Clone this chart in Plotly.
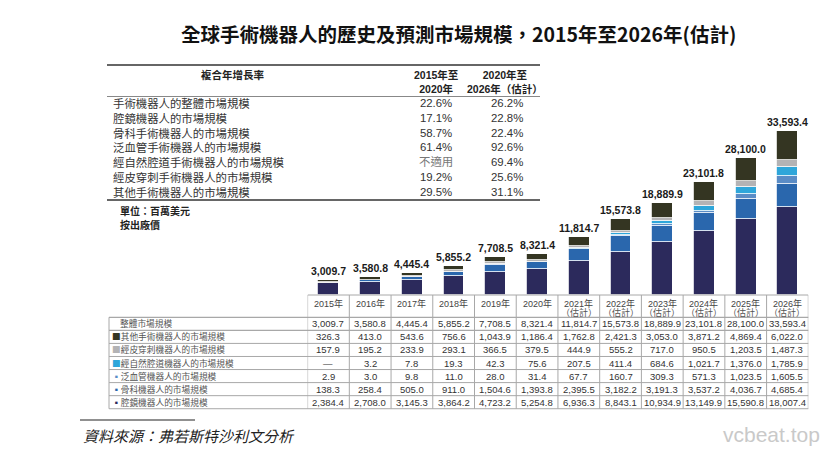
import plotly.graph_objects as go

# ---------------- data ----------------
years = ["2015年", "2016年", "2017年", "2018年", "2019年", "2020年",
         "2021年", "2022年", "2023年", "2024年", "2025年", "2026年"]
estimated = [False] * 6 + [True] * 6

endoscopic = [2384.4, 2708.0, 3145.3, 3864.2, 4723.2, 5254.8, 6936.3, 8843.1, 10934.9, 13149.9, 15590.8, 18007.4]
orthopedic = [138.3, 258.4, 505.0, 911.0, 1504.6, 1393.8, 2395.5, 3182.2, 3191.3, 3537.2, 4036.7, 4685.4]
panvascular = [2.9, 3.0, 9.8, 11.0, 28.0, 31.4, 67.7, 160.7, 309.3, 571.3, 1023.5, 1605.5]
natural_orifice = [None, 3.2, 7.8, 19.3, 42.3, 75.6, 207.5, 411.4, 684.6, 1021.7, 1376.0, 1785.9]
percutaneous = [157.9, 195.2, 233.9, 293.1, 366.5, 379.5, 444.9, 555.2, 717.0, 950.5, 1203.5, 1487.3]
others = [326.3, 413.0, 543.6, 756.6, 1043.9, 1186.4, 1762.8, 2421.3, 3053.0, 3871.2, 4869.4, 6022.0]
totals = [3009.7, 3580.8, 4445.4, 5855.2, 7708.5, 8321.4, 11814.7, 15573.8, 18889.9, 23101.8, 28100.0, 33593.4]

cagr_labels = ["手術機器人的整體市場規模", "腔鏡機器人的市場規模", "骨科手術機器人的市場規模",
               "泛血管手術機器人的市場規模", "經自然腔道手術機器人的市場規模",
               "經皮穿刺手術機器人的市場規模", "其他手術機器人的市場規模"]
cagr_2015_2020 = ["22.6%", "17.1%", "58.7%", "61.4%", "不適用", "19.2%", "29.5%"]
cagr_2020_2026 = ["26.2%", "22.8%", "22.4%", "92.6%", "69.4%", "25.6%", "31.1%"]

# ---------------- styles ----------------
W, H = 831, 449
CJK = "Noto Sans CJK TC"
NUM = "Liberation Sans, Arial, Noto Sans CJK TC"

col_endo = "#2c2a5c"
col_orth = "#2a67ad"
col_pan = "#5a8cc6"
col_nat = "#2ea6da"
col_perc = "#b3b3b5"
col_oth = "#343522"

series = [
    ("腔鏡機器人的市場規模", endoscopic, col_endo, "▪"),
    ("骨科機器人的市場規模", orthopedic, col_orth, "▪"),
    ("泛血管機器人的市場規模", panvascular, col_pan, "▪"),
    ("經自然腔道機器人的市場規模", natural_orifice, col_nat, "■"),
    ("經皮穿刺機器人的市場規模", percutaneous, col_perc, "■"),
    ("其他手術機器人的市場規模", others, col_oth, "■"),
]


def px(p):
    return p / W


def py(p):
    return 1 - p / H


def note(x, y, text, size, color="#333", family=CJK, xanchor="center", yanchor="middle",
         xref="paper", yref="paper", **kw):
    font = dict(family=family, size=size, color=color)
    font.update(kw.pop("font_extra", {}))
    return dict(x=x, y=y, xref=xref, yref=yref, text=text, showarrow=False,
                xanchor=xanchor, yanchor=yanchor, font=font, **kw)


x_idx = list(range(len(years)))
fig = go.Figure()
for name, vals, col, _ in series:
    fig.add_trace(go.Bar(
        x=x_idx, y=[v if v is not None else 0 for v in vals], name=name,
        marker=dict(color=col, line=dict(color="white", width=0.8)),
        width=0.5, hoverinfo="skip"))

annotations = []
shapes = []

# bar totals
for i, t in enumerate(totals):
    annotations.append(note(i, t, f"<b>{t:,.1f}</b>", 10.5, "#1a1a1a", NUM,
                            yanchor="bottom", xref="x", yref="y", yshift=1))

# title
annotations.append(note(px(458), py(33),
                        "<b>全球手術機器人的歷史及預測市場規模，2015年至2026年(估計)</b>",
                        19.5, "#111"))

# ---- CAGR table ----
shapes.append(dict(type="line", xref="paper", yref="paper", x0=px(107), x1=px(540),
                   y0=py(65), y1=py(65), line=dict(color="#333", width=1.5)))
shapes.append(dict(type="line", xref="paper", yref="paper", x0=px(107), x1=px(540),
                   y0=py(96.5), y1=py(96.5), line=dict(color="#888", width=1)))
shapes.append(dict(type="line", xref="paper", yref="paper", x0=px(107), x1=px(540),
                   y0=py(200), y1=py(200), line=dict(color="#333", width=1.5)))
annotations.append(note(px(233), py(74.5), "<b>複合年增長率</b>", 10.5, "#222"))
annotations.append(note(px(436), py(81.5), "<b>2015年至<br>2020年</b>", 10.5, "#222", NUM))
annotations.append(note(px(505), py(81.5), "<b>2020年至<br>2026年（估計）</b>", 10.5, "#222", NUM))

cagr_mid = py(103.3 + 3 * 14.8)
annotations.append(note(px(111), cagr_mid, "<br>".join(cagr_labels), 11.4, "#333",
                        xanchor="left", align="left"))
col1_txt = "<br>".join(
    f"<span style='color:#777'>{v}</span>" if v == "不適用" else v for v in cagr_2015_2020)
annotations.append(note(px(436), cagr_mid, col1_txt, 11.4, "#333", NUM, align="center"))
annotations.append(note(px(507), cagr_mid, "<br>".join(cagr_2020_2026), 11.4, "#333", NUM,
                        align="center"))
annotations.append(note(px(118), py(210.5), "<b>單位：百萬美元</b>", 10, "#222", xanchor="left"))
annotations.append(note(px(118), py(224.5), "<b>按出廠價</b>", 10, "#222", xanchor="left"))

# ---- data table under bars ----
top_px = 295.0
head_bottom = 317.3
row_h = 13.06
n_rows = 7
table_bottom = head_bottom + n_rows * row_h
label_left = 109.0
grid = "#a8a8a8"

shapes.append(dict(type="line", xref="x", yref="paper", x0=-0.5, x1=len(years) - 0.5,
                   y0=py(top_px), y1=py(top_px), line=dict(color=grid, width=1)))
for r in range(n_rows + 1):
    yy = py(head_bottom + r * row_h)
    shapes.append(dict(type="line", xref="paper", yref="paper", x0=px(label_left), x1=px(808.3),
                       y0=yy, y1=yy, line=dict(color=grid, width=1.2 if r < 2 else 1)))
shapes.append(dict(type="line", xref="paper", yref="paper", x0=px(label_left), x1=px(label_left),
                   y0=py(head_bottom), y1=py(table_bottom), line=dict(color=grid, width=1)))
for k in range(len(years) + 1):
    shapes.append(dict(type="line", xref="x", yref="paper", x0=k - 0.5, x1=k - 0.5,
                       y0=py(top_px), y1=py(table_bottom), line=dict(color=grid, width=1)))

# header
for i, yr in enumerate(years):
    annotations.append(note(i, py(303), yr, 9, "#444", NUM, xref="x"))
    if estimated[i]:
        annotations.append(note(i, py(312), "（估計）", 9, "#555", NUM, xref="x"))

# rows
table_rows = [("整體市場規模", None, totals)]
for name, vals, col, sq in reversed(series):
    table_rows.append((name, (col, sq), vals))

for r, (lab, mark, vals) in enumerate(table_rows):
    yy = py(head_bottom + (r + 0.5) * row_h)
    if mark is None:
        ltxt, lx = lab, 118
    else:
        ltxt, lx = f"<span style='color:{mark[0]}'>{mark[1]}</span>{lab}", 110
    annotations.append(note(px(lx), yy, ltxt, 8.7, "#555", xanchor="left"))
    for i, v in enumerate(vals):
        t = "—" if v is None else f"{v:,.1f}"
        annotations.append(note(i, yy, t, 9.5, "#333", NUM, xref="x"))

# source
shapes.append(dict(type="line", xref="paper", yref="paper", x0=px(80), x1=px(195),
                   y0=py(420), y1=py(420), line=dict(color="#222", width=1.2)))
annotations.append(note(px(81), py(435), "資料來源：弗若斯特沙利文分析", 15, "#222",
                        xanchor="left", font_extra=dict(style="italic")))
# watermark
annotations.append(note(px(822), py(434), "vcbeat.top", 21, "#c9c9c9",
                        "Liberation Sans, Arial", xanchor="right"))

ymax = 33593.4 * 295 / 164.3
fig.update_layout(
    width=W, height=H, margin=dict(l=0, r=0, t=0, b=0),
    paper_bgcolor="white", plot_bgcolor="white",
    barmode="stack", bargap=0, showlegend=False,
    xaxis=dict(domain=[px(307.6), px(808.3)], range=[-0.5, len(years) - 0.5],
               visible=False, fixedrange=True),
    yaxis=dict(domain=[py(295), 1], range=[0, ymax], visible=False, fixedrange=True),
    annotations=annotations, shapes=shapes,
)

fig.write_html("out.html", config={"displayModeBar": False},
               post_script="document.body.style.margin='0px';")
